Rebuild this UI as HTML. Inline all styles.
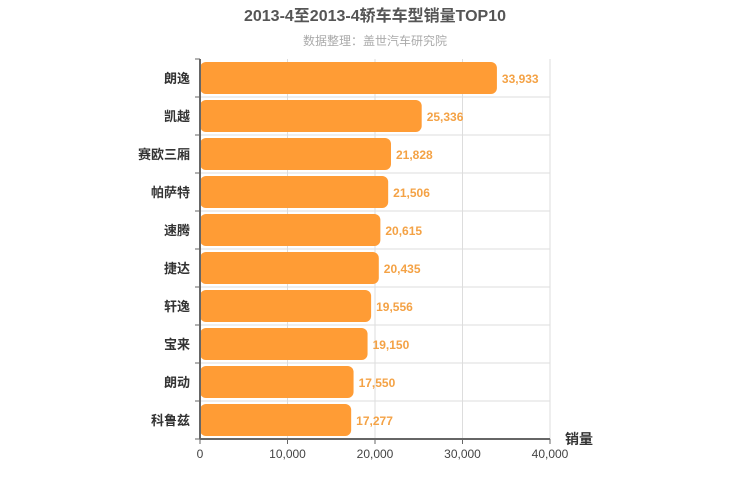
<!DOCTYPE html>
<html><head><meta charset="utf-8"><style>
body{margin:0;background:#fff;}
svg{display:block;font-family:"Liberation Sans","Noto Sans CJK SC",sans-serif;}
</style></head><body>
<svg id="chart" width="750" height="500">
<text x="375" y="21" text-anchor="middle" font-size="16" font-weight="bold" fill="#555">2013-4至2013-4轿车车型销量TOP10</text>
<text x="375" y="45" text-anchor="middle" font-size="12" fill="#aaa">数据整理：盖世汽车研究院</text>
<g id="grid"></g><g id="bars"></g><g id="axes"></g>
<text x="565" y="444" font-size="14" font-weight="bold" fill="#333">销量</text>
</svg>
<script>
const categories=["朗逸","凯越","赛欧三厢","帕萨特","速腾","捷达","轩逸","宝来","朗动","科鲁兹"];
const values=[33933,25336,21828,21506,20615,20435,19556,19150,17550,17277];
const ticks=[0,10000,20000,30000,40000];
const tickLabels=["0","10,000","20,000","30,000","40,000"];
const NS="http://www.w3.org/2000/svg";
const L=200,R=550,T=59,B=439,MAX=40000;
const x=v=>L+(R-L)*v/MAX;
const rowH=(B-T)/categories.length;
const y=i=>T+rowH*i;
function mk(tag,attrs,parent){const e=document.createElementNS(NS,tag);for(const k in attrs)e.setAttribute(k,attrs[k]);parent.appendChild(e);return e;}
const grid=document.getElementById('grid'),bars=document.getElementById('bars'),axes=document.getElementById('axes');
ticks.forEach((t,i)=>{
 if(t>0){const g=mk('line',{x1:x(t),x2:x(t),y1:T,y2:B,stroke:'#ddd'},grid);
 
 }
 const tk=mk('line',{x1:x(t),x2:x(t),y1:B,y2:B+5,stroke:'#666'},axes);
 
 
 const lb=mk('text',{x:x(t),y:B+19,'text-anchor':'middle','font-size':12,fill:'#444'},axes);
 lb.textContent=tickLabels[i];
 
 
});
for(let i=0;i<=categories.length;i++){
 if(i>0&&i<categories.length){const g=mk('line',{x1:L,x2:R,y1:y(i),y2:y(i),stroke:'#ddd'},grid);
 
 }
 const tk=mk('line',{x1:L-5,x2:L,y1:y(i),y2:y(i),stroke:'#666'},axes);
 
 
}
categories.forEach((c,i)=>{
 const v=values[i];
 const r=mk('rect',{x:L,y:y(i)+3,width:x(v)-L,height:rowH-6,rx:6,fill:'#ff9c35'},bars);
 
 
 const vl=mk('text',{x:x(v)+5,y:y(i)+rowH/2+5,'font-size':12,'font-weight':'bold',fill:'#f4a245'},bars);
 vl.textContent=v.toLocaleString('en-US');
 
 
 const cl=mk('text',{x:L-10,y:y(i)+rowH/2+5,'text-anchor':'end','font-size':13,'font-weight':'bold',fill:'#333'},axes);
 cl.textContent=c;
 
 
});
const ax=mk('line',{x1:L,x2:R,y1:B,y2:B,stroke:'#666','stroke-width':2},axes);


const ay=mk('line',{x1:L,x2:L,y1:T,y2:B,stroke:'#666','stroke-width':2},axes);


</script>
</body></html>
